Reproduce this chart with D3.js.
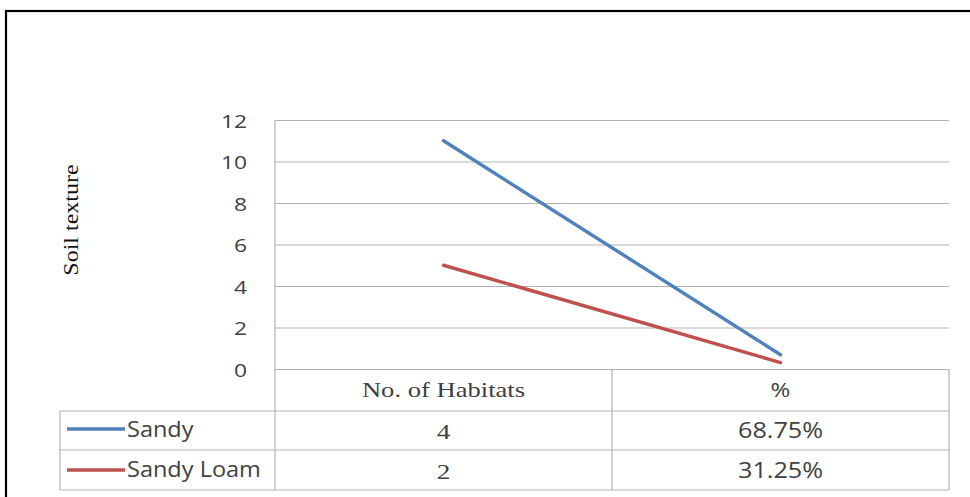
<!DOCTYPE html>
<html>
<head>
<meta charset="utf-8">
<script src="https://cdn.jsdelivr.net/npm/d3@7"></script>
<style>
  html, body { margin: 0; padding: 0; background: #fff; }
  svg { display: block; }
</style>
</head>
<body>
<svg id="chart" width="970" height="497"></svg>
<script>
// Categories along the x axis (also the data table columns)
const categories = ["No. of Habitats", "%"];
// Series
const seriesNames = ["Sandy", "Sandy Loam"];
const sandyValues = [11, 0.6875];
const sandyLoamValues = [5, 0.3125];
const seriesColors = ["#4F81BD", "#C0504D"];
// Text shown in the data table's "No. of Habitats" column
const habitatCells = ["4", "2"];
// Y axis ticks
const yTicks = [0, 2, 4, 6, 8, 10, 12];
const yTitle = "Soil texture";

const series = seriesNames.map((name, i) => ({
  name,
  color: seriesColors[i],
  values: i === 0 ? sandyValues : sandyLoamValues,
  habitat: habitatCells[i]
}));

const svg = d3.select("#chart");
const W = 970, H = 497;
const plot = { left: 275, right: 949, top: 120, bottom: 369 };
const tableLeft = 60;
const rowBottoms = [411, 450, 490];

const SANS = "'Open Sans', 'Noto Sans', sans-serif";
const SERIF = "'Liberation Serif', 'DejaVu Serif', serif";
const gridColor = "#b3b3b3";
const textColor = "#404040";

// Text placed at (x, y) and widened horizontally by sx
function label(parent, x, y, str, opts) {
  const o = Object.assign({ size: 20, family: SANS, anchor: "start", sx: 1.2, fill: textColor }, opts);
  return parent.append("text")
    .attr("transform", `translate(${x},${y}) scale(${o.sx},1)`)
    .attr("text-anchor", o.anchor)
    .style("font-family", o.family)
    .style("font-size", o.size + "px")
    .attr("fill", o.fill)
    .text(str);
}

// Outer frame
svg.append("rect")
  .attr("x", 6).attr("y", 11)
  .attr("width", W + 10).attr("height", H + 10)
  .attr("fill", "#fff").attr("stroke", "#000").attr("stroke-width", 2.2);

const x = d3.scaleBand().domain(categories).range([plot.left, plot.right]).padding(0);
const y = d3.scaleLinear().domain([0, 12]).range([plot.bottom, plot.top]);
const xc = c => x(c) + x.bandwidth() / 2;

// Horizontal gridlines
svg.append("g")
  .attr("transform", `translate(${plot.left},0)`)
  .call(d3.axisLeft(y).tickValues(yTicks).tickSize(-(plot.right - plot.left)).tickFormat(""))
  .call(g => g.select(".domain").remove())
  .call(g => g.selectAll("line").attr("stroke", gridColor).attr("stroke-width", 1.2));

// Y tick labels
svg.append("g")
  .attr("transform", `translate(${plot.left},0)`)
  .call(d3.axisLeft(y).tickValues(yTicks).tickSize(0))
  .call(g => g.select(".domain").remove())
  .call(g => g.selectAll("text")
    .attr("x", null).attr("dy", null)
    .attr("transform", "translate(-28,7) scale(1.2,1)")
    .attr("fill", textColor)
    .style("font-family", SANS)
    .style("font-size", "19px"));

// Y axis title
svg.append("text")
  .attr("transform", "translate(78,220) rotate(-90) scale(1.2,1)")
  .attr("text-anchor", "middle")
  .style("font-family", SERIF)
  .style("font-size", "20px")
  .attr("fill", "#111")
  .text(yTitle);

// Data table grid
const tbl = svg.append("g").attr("stroke", gridColor).attr("stroke-width", 1.2).attr("fill", "none");
tbl.append("line").attr("x1", plot.left).attr("x2", plot.left).attr("y1", plot.top).attr("y2", rowBottoms[2]);
categories.forEach(c => {
  const xr = x(c) + x.bandwidth();
  tbl.append("line").attr("x1", xr).attr("x2", xr).attr("y1", plot.bottom).attr("y2", rowBottoms[2]);
});
tbl.append("line").attr("x1", tableLeft).attr("x2", tableLeft).attr("y1", rowBottoms[0]).attr("y2", rowBottoms[2]);
rowBottoms.forEach(yy => {
  tbl.append("line").attr("x1", tableLeft).attr("x2", plot.right).attr("y1", yy).attr("y2", yy);
});

// Header cells
const head = svg.append("g");
label(head, xc(categories[0]), 397, categories[0], { family: SERIF, size: 20, anchor: "middle", sx: 1.33 });
label(head, xc(categories[1]), 397, categories[1], { size: 20, anchor: "middle", sx: 1.2 });

// Lines
const line = d3.line()
  .x((d, i) => xc(categories[i]))
  .y(d => y(d));

svg.append("g").selectAll("path").data(series).join("path")
  .attr("d", d => line(d.values))
  .attr("fill", "none")
  .attr("stroke", d => d.color)
  .attr("stroke-width", 3.4)
  .attr("stroke-linecap", "round");

// Table body rows: legend key, habitat count, percentage
const pct = d3.format(".2%");
const keyY = [429, 470];
const baseY = [438, 478];
const body = svg.append("g");
series.forEach((s, i) => {
  body.append("line")
    .attr("x1", 67).attr("x2", 125).attr("y1", keyY[i]).attr("y2", keyY[i])
    .attr("stroke", s.color).attr("stroke-width", 3.4);
  label(body, 127, baseY[i] - 1, s.name, { size: 21, sx: 1.12 });
  label(body, xc(categories[0]), baseY[i] + 1, s.habitat, { family: SERIF, size: 21, anchor: "middle", sx: 1.3 });
  label(body, xc(categories[1]), baseY[i], pct(s.values[1]), { size: 21, anchor: "middle", sx: 1.2 });
});
</script>
</body>
</html>
